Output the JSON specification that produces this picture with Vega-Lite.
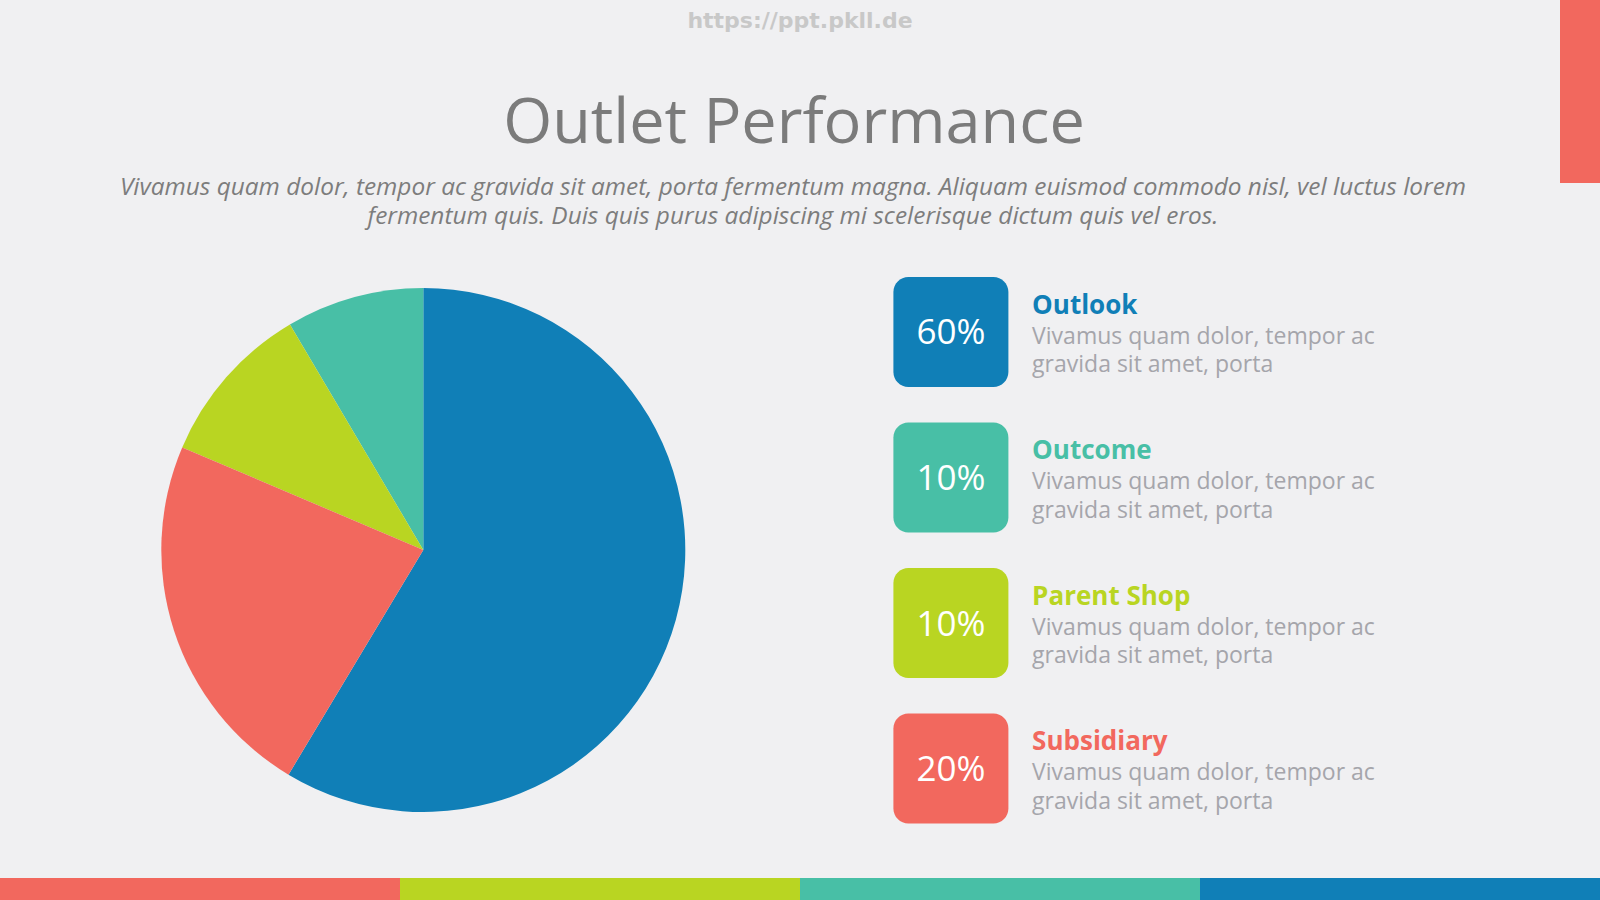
{
  "$schema": "https://vega.github.io/schema/vega-lite/v6.json",
  "background": "#f0f0f2",
  "padding": 0,
  "spacing": 0,
  "config": {"view": {"stroke": null}, "font": "Open Sans"},
  "datasets": {
    "outlets": [
      {"outlet": "Outlook", "share": 58.6, "label": "60%", "desc": ["Vivamus quam dolor, tempor ac", "gravida sit amet, porta"], "pieOrder": 1},
      {"outlet": "Outcome", "share": 8.5, "label": "10%", "desc": ["Vivamus quam dolor, tempor ac", "gravida sit amet, porta"], "pieOrder": 4},
      {"outlet": "Parent Shop", "share": 10.1, "label": "10%", "desc": ["Vivamus quam dolor, tempor ac", "gravida sit amet, porta"], "pieOrder": 3},
      {"outlet": "Subsidiary", "share": 22.8, "label": "20%", "desc": ["Vivamus quam dolor, tempor ac", "gravida sit amet, porta"], "pieOrder": 2}
    ],
    "header": [
      {"kind": "watermark", "text": "https://ppt.pkll.de"},
      {"kind": "title", "text": "Outlet Performance"},
      {"kind": "sub", "text": ["Vivamus quam dolor, tempor ac gravida sit amet, porta fermentum magna. Aliquam euismod commodo nisl, vel luctus lorem", "fermentum quis. Duis quis purus adipiscing mi scelerisque dictum quis vel eros."]}
    ]
  },
  "vconcat": [
    {
      "spacing": 0,
      "bounds": "flush",
      "hconcat": [
        {
          "width": 1560,
          "height": 276.5,
          "data": {"name": "header"},
          "layer": [
            {
              "transform": [{"filter": "datum.kind == 'watermark'"}],
              "mark": {"type": "text", "x": 800, "y": 27.5, "baseline": "alphabetic", "font": "DejaVu Sans", "fontWeight": "bold", "fontSize": 22, "color": "#c8c8c8"},
              "encoding": {"text": {"field": "text"}}
            },
            {
              "transform": [{"filter": "datum.kind == 'title'"}],
              "mark": {"type": "text", "x": 794, "y": 143, "baseline": "alphabetic", "fontSize": 63, "color": "#7b7b7b"},
              "encoding": {"text": {"field": "text"}}
            },
            {
              "transform": [{"filter": "datum.kind == 'sub'"}],
              "mark": {"type": "text", "x": 793, "y": 195, "baseline": "alphabetic", "lineHeight": 29, "fontSize": 24.4, "fontStyle": "italic", "color": "#7d7d7d"},
              "encoding": {"text": {"field": "text"}}
            }
          ]
        },
        {
          "width": 40,
          "height": 183,
          "data": {"values": [{"decor": "corner"}]},
          "mark": {"type": "rect", "color": "#f2685e"},
          "encoding": {}
        }
      ]
    },
    {
      "spacing": 46.4,
      "bounds": "flush",
      "hconcat": [
        {
          "width": 846.6,
          "height": 546,
          "data": {"name": "outlets"},
          "mark": {"type": "arc", "outerRadius": 262},
          "encoding": {
            "theta": {"field": "share", "type": "quantitative", "stack": true},
            "order": {"field": "pieOrder", "type": "quantitative"},
            "color": {"field": "outlet", "type": "nominal", "scale": {"domain": ["Outlook", "Outcome", "Parent Shop", "Subsidiary"], "range": ["#107fb7", "#48bfa6", "#b9d522", "#f2685e"]}, "legend": null}
          }
        },
        {
          "width": 620,
          "height": 600.2,
          "data": {"name": "outlets"},
          "encoding": {
            "y": {"field": "outlet", "type": "nominal", "sort": ["Outlook", "Outcome", "Parent Shop", "Subsidiary"], "scale": {"type": "band", "range": [0, 546.5], "paddingInner": 0.244, "paddingOuter": 0}, "axis": null}
          },
          "layer": [
            {
              "mark": {"type": "rect", "x": 0, "x2": 115, "cornerRadius": 15},
              "encoding": {"color": {"field": "outlet", "type": "nominal", "scale": {"domain": ["Outlook", "Outcome", "Parent Shop", "Subsidiary"], "range": ["#107fb7", "#48bfa6", "#b9d522", "#f2685e"]}, "legend": null}}
            },
            {
              "mark": {"type": "text", "x": 57.5, "baseline": "alphabetic", "dy": 12.5, "fontSize": 35, "color": "#ffffff"},
              "encoding": {"text": {"field": "label"}}
            },
            {
              "mark": {"type": "text", "x": 138.7, "align": "left", "baseline": "alphabetic", "dy": -18.4, "fontSize": 26, "fontWeight": "bold"},
              "encoding": {
                "text": {"field": "outlet"},
                "color": {"field": "outlet", "type": "nominal", "scale": {"domain": ["Outlook", "Outcome", "Parent Shop", "Subsidiary"], "range": ["#107fb7", "#48bfa6", "#b9d522", "#f2685e"]}, "legend": null}
              }
            },
            {
              "mark": {"type": "text", "x": 138.7, "align": "left", "baseline": "alphabetic", "dy": 11.6, "lineHeight": 28.6, "fontSize": 23, "color": "#a5a5ab"},
              "encoding": {"text": {"field": "desc"}}
            }
          ]
        }
      ]
    },
    {
      "width": 1600,
      "height": 23.3,
      "data": {"name": "outlets"},
      "mark": "rect",
      "encoding": {
        "x": {"field": "outlet", "type": "nominal", "sort": ["Subsidiary", "Parent Shop", "Outcome", "Outlook"], "scale": {"type": "band", "paddingInner": 0, "paddingOuter": 0}, "axis": null},
        "color": {"field": "outlet", "type": "nominal", "scale": {"domain": ["Outlook", "Outcome", "Parent Shop", "Subsidiary"], "range": ["#107fb7", "#48bfa6", "#b9d522", "#f2685e"]}, "legend": null}
      }
    }
  ]
}
